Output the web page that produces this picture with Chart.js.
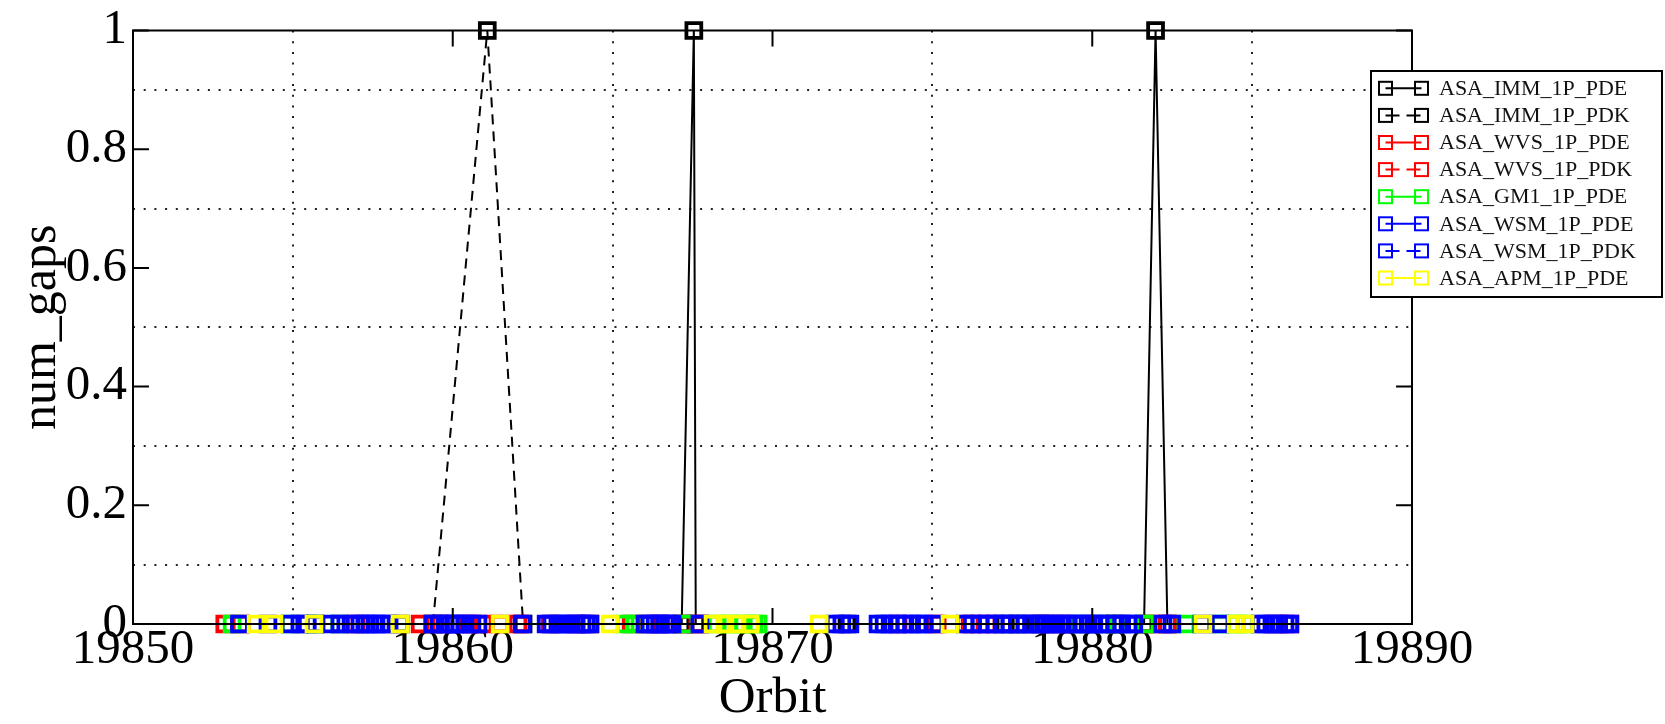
<!DOCTYPE html>
<html><head><meta charset="utf-8">
<script src="https://cdn.jsdelivr.net/npm/chart.js@4.4.1/dist/chart.umd.min.js"></script>
<style>html,body{margin:0;padding:0;background:#fff;}canvas{display:block;}</style>
</head><body>
<canvas id="c" width="1665" height="724"></canvas>
<script>
// ---- data (orbit, num_gaps) ----
const immPdeOrbit = [19858.35, 19867.16, 19867.54, 19867.60, 19872.33, 19877.27, 19877.74, 19878.37, 19881.62, 19881.98, 19882.35];
const immPdeGaps  = [0, 0, 1, 0, 0, 0, 0, 0, 0, 1, 0];

const immPdkOrbit = [19859.38, 19861.08, 19862.20];
const immPdkGaps  = [0, 1, 0];

const wvsPdeOrbit = [19852.87, 19856.97, 19858.98, 19860.48, 19861.48, 19863.04, 19864.29, 19866.11, 19867.20, 19873.93, 19876.18, 19878.52, 19880.71, 19881.74, 19885.72];
const wvsPdeGaps  = [0, 0, 0, 0, 0, 0, 0, 0, 0, 0, 0, 0, 0, 0, 0];

const wvsPdkOrbit = [19853.38, 19859.63, 19860.95, 19862.04, 19863.86, 19865.58, 19866.51, 19867.73, 19875.15, 19876.71, 19879.09, 19882.35, 19886.18];
const wvsPdkGaps  = [0, 0, 0, 0, 0, 0, 0, 0, 0, 0, 0, 0, 0];

const gm1PdeOrbit = [19853.10, 19854.91, 19855.69, 19856.47, 19865.39, 19865.70, 19867.26, 19868.27, 19868.64, 19869.02, 19869.42, 19869.55, 19879.65, 19880.40, 19880.80, 19881.65, 19882.93, 19884.00, 19884.50, 19884.78];
const gm1PdeGaps  = [0, 0, 0, 0, 0, 0, 0, 0, 0, 0, 0, 0, 0, 0, 0, 0, 0, 0, 0, 0];

const wsmPdeOrbit = [19853.33, 19854.91, 19855.69, 19856.47, 19857.41, 19858.01, 19859.76, 19860.38, 19862.17, 19863.29, 19864.04, 19866.01, 19866.64, 19867.73, 19872.42, 19873.68, 19874.55, 19876.02, 19876.96, 19877.90, 19878.68, 19879.46, 19880.24, 19881.12, 19882.49, 19884.00, 19885.62, 19886.18];
const wsmPdeGaps  = [0, 0, 0, 0, 0, 0, 0, 0, 0, 0, 0, 0, 0, 0, 0, 0, 0, 0, 0, 0, 0, 0, 0, 0, 0, 0, 0, 0];

const wsmPdkOrbit = [
  19854.22, 19855.22, 19855.45, 19856.19, 19856.82, 19857.10, 19857.25, 19857.60, 19857.76, 19859.38,
  19859.57, 19859.92, 19860.07, 19860.22, 19860.60, 19860.79, 19862.92, 19863.10, 19863.48, 19863.67,
  19863.85, 19864.17, 19864.29, 19866.17, 19866.33, 19866.48, 19866.75, 19866.86, 19871.96, 19872.17,
  19873.30, 19873.49, 19873.90, 19874.14, 19874.35, 19874.75, 19875.05, 19876.25, 19876.49, 19876.72,
  19877.20, 19877.43, 19877.66, 19878.10, 19878.30, 19878.49, 19878.87, 19879.05, 19879.25, 19879.67,
  19879.87, 19880.05, 19880.47, 19880.71, 19880.92, 19881.30, 19882.21, 19883.43, 19885.25, 19885.43,
  19885.83, 19886.03];
const wsmPdkGaps  = [
  0, 0, 0, 0, 0, 0, 0, 0, 0, 0,
  0, 0, 0, 0, 0, 0, 0, 0, 0, 0,
  0, 0, 0, 0, 0, 0, 0, 0, 0, 0,
  0, 0, 0, 0, 0, 0, 0, 0, 0, 0,
  0, 0, 0, 0, 0, 0, 0, 0, 0, 0,
  0, 0, 0, 0, 0, 0, 0, 0, 0, 0,
  0, 0];

const apmPdeOrbit = [19853.85, 19854.41, 19855.66, 19858.35, 19861.48, 19864.92, 19868.14, 19868.51, 19868.89, 19869.30, 19871.46, 19875.55, 19883.46, 19884.50, 19884.78];
const apmPdeGaps  = [0, 0, 0, 0, 0, 0, 0, 0, 0, 0, 0, 0, 0, 0, 0];

const seriesLabels = ['ASA_IMM_1P_PDE', 'ASA_IMM_1P_PDK', 'ASA_WVS_1P_PDE', 'ASA_WVS_1P_PDK', 'ASA_GM1_1P_PDE', 'ASA_WSM_1P_PDE', 'ASA_WSM_1P_PDK', 'ASA_APM_1P_PDE'];
const xTickLabels = ['19850', '19860', '19870', '19880', '19890'];
const yTickLabels = ['0', '0.2', '0.4', '0.6', '0.8', '1'];

// ---- styling ----
const FONT = "'Liberation Serif', 'Times New Roman', serif";
const seriesColors = ['#000000', '#000000', '#ff0000', '#ff0000', '#00ff00', '#0000ff', '#0000ff', '#ffff00'];
const seriesDashed = [false, true, false, true, false, false, true, false];
const orbits = [immPdeOrbit, immPdkOrbit, wvsPdeOrbit, wvsPdkOrbit, gm1PdeOrbit, wsmPdeOrbit, wsmPdkOrbit, apmPdeOrbit];
const gaps = [immPdeGaps, immPdkGaps, wvsPdeGaps, wvsPdkGaps, gm1PdeGaps, wsmPdeGaps, wsmPdkGaps, apmPdeGaps];

const datasets = seriesLabels.map((label, i) => ({
  label,
  data: orbits[i].map((o, j) => ({x: o, y: gaps[i][j]})),
  borderColor: seriesColors[i],
  pointBorderColor: seriesColors[i],
  pointBackgroundColor: 'rgba(0,0,0,0)',
  backgroundColor: 'rgba(0,0,0,0)',
  borderWidth: 2,
  borderDash: seriesDashed[i] ? [10, 7] : [],
  pointStyle: 'rect',
  pointRadius: 10.5,
  pointHoverRadius: 10.5,
  pointBorderWidth: 3.8,
  tension: 0,
  fill: false,
  clip: false,
  order: seriesLabels.length - 1 - i
}));

const frameAndTicks = {
  id: 'frameAndTicks',
  afterDatasetsDraw(chart) {
    const {ctx, chartArea: {left, top, right, bottom}, scales: {x, y}} = chart;
    ctx.save();
    ctx.setLineDash([]);
    ctx.strokeStyle = '#000';
    ctx.lineWidth = 2;
    ctx.strokeRect(left, top, right - left, bottom - top);
    const L = 16;
    ctx.beginPath();
    x.ticks.forEach(t => {
      if (Math.round(t.value) % 10 !== 0) return;
      const px = x.getPixelForValue(t.value);
      ctx.moveTo(px, bottom); ctx.lineTo(px, bottom - L);
      ctx.moveTo(px, top); ctx.lineTo(px, top + L);
    });
    y.ticks.forEach(t => {
      if (Math.round(t.value * 10) % 2 !== 0) return;
      const py = y.getPixelForValue(t.value);
      ctx.moveTo(left, py); ctx.lineTo(left + L, py);
      ctx.moveTo(right, py); ctx.lineTo(right - L, py);
    });
    ctx.stroke();
    ctx.restore();
  }
};

const boxLegend = {
  id: 'boxLegend',
  afterDraw(chart) {
    const ctx = chart.ctx;
    const bx = 1371, by = 71, bw = 291, bh = 226;
    ctx.save();
    ctx.fillStyle = '#fff';
    ctx.fillRect(bx, by, bw, bh);
    ctx.strokeStyle = '#000';
    ctx.lineWidth = 2;
    ctx.setLineDash([]);
    ctx.strokeRect(bx, by, bw, bh);
    chart.data.datasets.forEach((ds, i) => {
      const cy = 88.3 + i * 27.1;
      const x1 = 1385.5, x2 = 1421.5, s = 13;
      ctx.strokeStyle = ds.borderColor;
      ctx.lineWidth = 2;
      ctx.setLineDash(ds.borderDash.length ? [14, 7] : []);
      ctx.beginPath(); ctx.moveTo(x1, cy); ctx.lineTo(x2, cy); ctx.stroke();
      ctx.setLineDash([]);
      ctx.strokeRect(x1 - s / 2, cy - s / 2, s, s);
      ctx.strokeRect(x2 - s / 2, cy - s / 2, s, s);
      ctx.fillStyle = '#111';
      ctx.font = "22px " + FONT;
      ctx.textBaseline = 'middle';
      ctx.textAlign = 'left';
      ctx.fillText(ds.label, 1439, cy + 1);
    });
    ctx.restore();
  }
};

new Chart(document.getElementById('c'), {
  type: 'line',
  data: {datasets},
  plugins: [frameAndTicks, boxLegend],
  options: {
    responsive: false,
    devicePixelRatio: 1,
    animation: false,
    layout: {padding: {top: 26, right: 253, left: 0, bottom: 0}},
    plugins: {legend: {display: false}, tooltip: {enabled: false}},
    scales: {
      x: {
        type: 'linear', min: 19850, max: 19890,
        afterFit(s) { s.height = 100; },
        border: {display: false, dash: [2, 8.7]},
        grid: {
          drawTicks: false, lineWidth: 2,
          color: c => (Math.round(c.tick.value) % 10 !== 0 ? '#222' : 'rgba(0,0,0,0)')
        },
        ticks: {
          stepSize: 5, autoSkip: false, maxRotation: 0, padding: 2, color: '#000',
          font: {family: FONT, size: 49, lineHeight: 1},
          callback: v => { const s = String(Math.round(v)); return xTickLabels.includes(s) ? s : ''; }
        },
        title: {display: true, text: 'Orbit', color: '#000', padding: {top: 0, bottom: 0}, font: {family: FONT, size: 51, lineHeight: 1}}
      },
      y: {
        type: 'linear', min: 0, max: 1,
        afterFit(s) { s.width = 133; },
        border: {display: false, dash: [2, 8.7]},
        grid: {
          drawTicks: false, lineWidth: 2,
          color: c => (Math.round(c.tick.value * 10) % 2 !== 0 ? '#222' : 'rgba(0,0,0,0)')
        },
        ticks: {
          stepSize: 0.1, autoSkip: false, padding: 6, color: '#000',
          font: {family: FONT, size: 49, lineHeight: 1},
          callback: v => { const k = Math.round(v * 10); const s = k === 0 ? '0' : k === 10 ? '1' : (k / 10).toString(); return yTickLabels.includes(s) ? s : ''; }
        },
        title: {display: true, text: 'num_gaps', color: '#000', padding: {top: 17, bottom: 0}, font: {family: FONT, size: 50, lineHeight: 1}}
      }
    }
  }
});
</script>
</body></html>
